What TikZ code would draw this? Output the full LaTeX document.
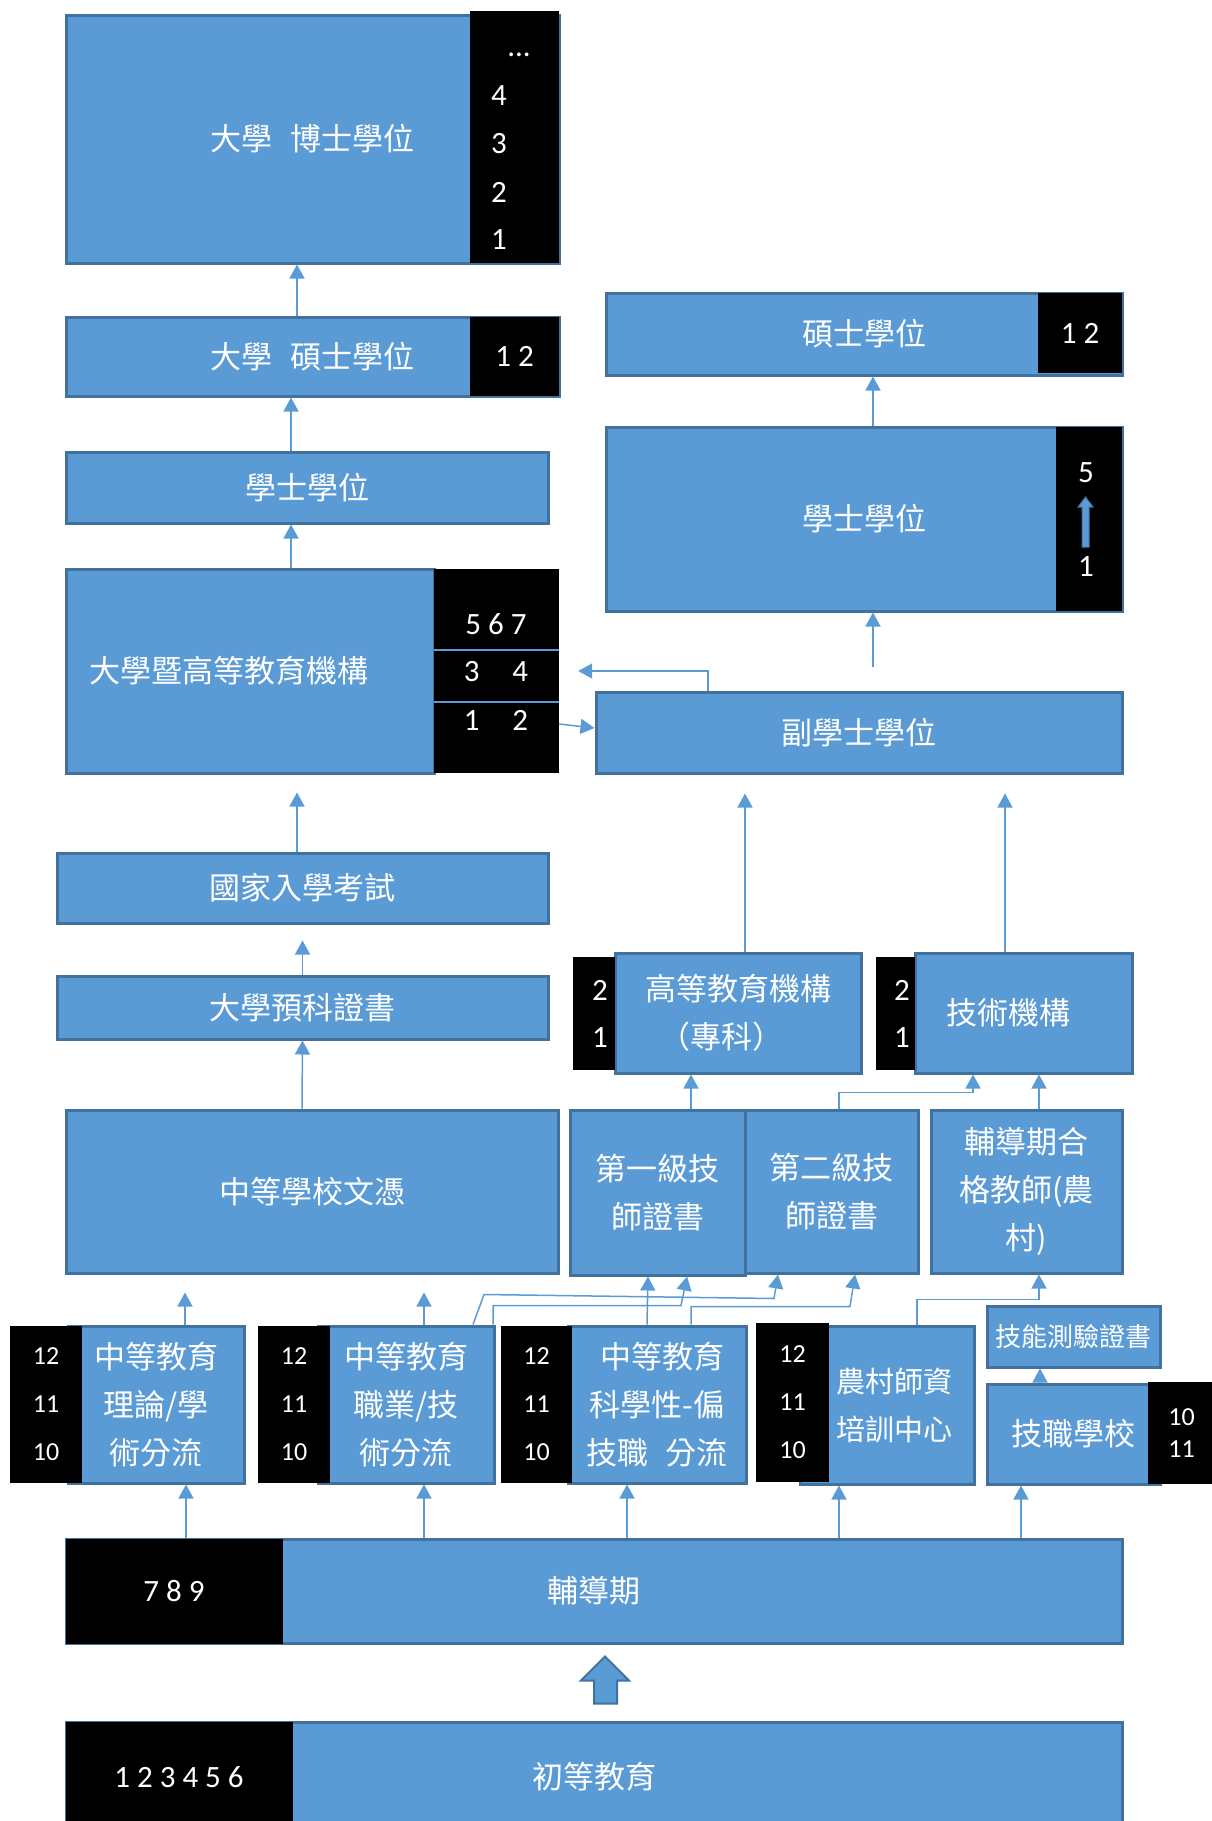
\documentclass[tikz,border=0pt]{standalone}
\usepackage{fontspec}
\usepackage{tikz}
\usetikzlibrary{positioning,calc}
\usetikzlibrary{arrows.meta}
\newfontfamily\cjkfont{Noto Sans CJK TC}
\newfontfamily\digfont{Carlito}
\definecolor{BoxBlue}{RGB}{91,155,213}
\definecolor{BoxEdge}{RGB}{65,113,156}

\begin{document}
\begin{tikzpicture}[x=1pt,y=-1pt,
	box/.style={rectangle,draw=BoxEdge,fill=BoxBlue,line width=3pt,text=white,inner sep=0pt,align=center,
		font=\cjkfont\fontsize{31}{48}\selectfont},
	yrs/.style={rectangle,fill=black,text=white,inner sep=0pt,align=center,
		font=\digfont\fontsize{31}{48}\selectfont},
	num/.style={text=white,inner sep=0pt,font=\digfont\fontsize{31}{36}\selectfont},
	small/.style={font=\digfont\fontsize{26}{48}\selectfont},
	arr/.style={draw=BoxBlue,line width=1.5pt,-{Triangle[width=15pt,length=14pt]}}]
				\useasboundingbox (0,0) rectangle (1212,1821);
				
				\node[box,minimum width=493pt,minimum height=248pt] (phd) at (312.5,139) {大學\hspace{0.6em}博士學位};
				\node[yrs,minimum width=89pt,minimum height=252pt] (phdyrs) at (514.5,137) {};
				\node[num] (phddots) at (519,55) {...};
				\foreach \n/\y in {4/96,3/144,2/192,1/240}
				\node[num] (phd\n) at (499,\y) {\n};
				
				\node[box,minimum width=493pt,minimum height=79pt] (master) at (312.5,356.5) {大學\hspace{0.6em}碩士學位};
				\node[yrs,minimum width=89pt,minimum height=79pt] (masteryrs) at (514.5,356.5) {1 2};
				\node[box,minimum width=482pt,minimum height=71pt] (bachelor) at (307,487.5) {學士學位};
				
				\node[box,text width=322pt,inner xsep=23pt,align=left,minimum height=204pt] (univ) at (250,671) {大學暨高等教育機構};
				\node[yrs,minimum width=125pt,minimum height=204pt] (univyrs) at (496.5,671) {};
				\draw[BoxBlue,line width=2pt] ([yshift=21pt]univyrs.west) -- ([yshift=21pt]univyrs.east);
				\draw[BoxBlue,line width=2pt] ([yshift=-31pt]univyrs.west) -- ([yshift=-31pt]univyrs.east);
				\node[num] (ufive) at (496,624) {5 6 7};
				\node[num] (uthree) at (496,672) {3\hspace{33pt}4};
				\node[num] (uone) at (496,720) {1\hspace{33pt}2};
				
				\node[box,minimum width=491pt,minimum height=70pt] (exam) at (302.5,888) {國家入學考試};
				\node[box,minimum width=491pt,minimum height=63pt] (prep) at (302.5,1007.5) {大學預科證書};
				\node[box,minimum width=492pt,minimum height=163pt] (seccert) at (312,1191.5) {中等學校文憑};
				
				\node[box,minimum width=516pt,minimum height=82pt] (msc) at (864,334) {碩士學位};
				\node[yrs,minimum width=84pt,minimum height=80pt] (mscyrs) at (1080,333) {1 2};
				\node[box,minimum width=516pt,minimum height=184pt] (bsc) at (864,519) {學士學位};
				\node[yrs,minimum width=66pt,minimum height=184pt] (bscyrs) at (1089,519) {};
				\node[num] (bfive) at (1086,473) {5};
				\node[num] (bone) at (1086,567) {1};
				\draw[fill=BoxBlue,draw=BoxEdge,line width=1pt] (1082,547) -- (1082,507) -- (1078,507) -- (1085.5,497)
					-- (1093,507) -- (1089,507) -- (1089,547) -- cycle;
				\node[box,minimum width=526pt,minimum height=81pt] (assoc) at (859,732.5) {副學士學位};
				
				\node[box,minimum width=246pt,minimum height=120pt] (higher) at (738,1013) {高等教育機構\\（專科）\hspace*{34pt}};
				\node[yrs,minimum width=42pt,minimum height=113pt,font=\digfont\fontsize{31}{47}\selectfont] (higheryrs) at (594,1013.5) {\hspace*{12pt}2\\\hspace*{12pt}1};
				\node[box,minimum width=217pt,minimum height=120pt] (tech) at (1023.5,1013) {技術機構\hspace*{30pt}};
				\node[yrs,minimum width=39pt,minimum height=113pt,font=\digfont\fontsize{31}{47}\selectfont] (techyrs) at (895.5,1013.5) {\hspace*{13pt}2\\\hspace*{13pt}1};
				
				\node[box,minimum width=173pt,minimum height=163pt] (lvltwo) at (831.5,1191.5) {第二級技\\師證書};
				\node[box,minimum width=175pt,minimum height=165pt] (lvlone) at (657.5,1192.5) {第一級技\\師證書};
				\node[box,minimum width=191pt,minimum height=163pt] (rural) at (1026.5,1191.5) {輔導期合\\格教師(農\\村)};
				
				\node[box,minimum width=176pt,minimum height=157pt] (sone) at (156,1404.5) {中等教育\\理論/學\\術分流};
				\node[yrs,small,minimum width=72pt,minimum height=157pt] (soneyrs) at (46,1404.5) {12\\11\\10};
				\node[box,minimum width=176pt,minimum height=157pt] (stwo) at (406,1404.5) {中等教育\\職業/技\\術分流};
				\node[yrs,small,minimum width=72pt,minimum height=157pt] (stwoyrs) at (294,1404.5) {12\\11\\10};
				\node[box,minimum width=178pt,minimum height=157pt] (sthree) at (657,1404.5) {\hspace*{10pt}中等教育\\科學性-偏\\技職\hspace{0.55em}分流};
				\node[yrs,small,minimum width=71pt,minimum height=157pt] (sthreeyrs) at (536.5,1404.5) {12\\11\\10};
				\node[box,minimum width=174pt,minimum height=158pt,font=\cjkfont\fontsize{29}{48}\selectfont] (rtc) at (887,1405) {\hspace*{14pt}農村師資\\\hspace*{14pt}培訓中心};
				\node[yrs,small,minimum width=73pt,minimum height=159pt] (rtcyrs) at (792.5,1402.5) {12\\11\\10};
				\node[box,minimum width=173pt,minimum height=61pt,font=\cjkfont\fontsize{26}{30}\selectfont] (skill) at (1073.5,1336.5) {技能測驗證書};
				\node[box,minimum width=173pt,minimum height=100pt] (vocsch) at (1073.5,1434) {技職學校};
				\node[yrs,font=\digfont\fontsize{26}{32}\selectfont,minimum width=67pt,minimum height=102pt] (vocyrs) at (1181.5,1433) {10\\11};
				
				\node[box,minimum width=1056pt,minimum height=104pt] (guid) at (594,1591) {輔導期};
				\node[yrs,minimum width=217pt,minimum height=105pt] (guidyrs) at (174,1591) {7 8 9};
				\node[box,minimum width=1056pt,minimum height=110pt] (prim) at (594,1777) {初等教育};
				\node[yrs,minimum width=227pt,minimum height=111pt] (primyrs) at (179,1777) {1 2 3 4 5 6};
				
				\draw[fill=BoxBlue,draw=BoxEdge,line width=2pt] ([yshift=17pt]prim.north) -- ++(0,-23) -- ++(-13,0) -- ++(24,-24)
					-- ++(24,24) -- ++(-12,0) -- ++(0,23) -- cycle;
				
				\draw[arr] ([xshift=-15.5pt]master.north) -- ([xshift=-15.5pt]phd.south);
				\draw[arr] ([xshift=-16pt]bachelor.north) -- ([xshift=-21.5pt]master.south);
				\draw[arr] ([xshift=41pt]univ.north) -- ([xshift=-16pt]bachelor.south);
				\draw[arr,shorten >=18pt] ([xshift=-5.5pt]exam.north) -- ([xshift=-5.5pt]exam.north |- univ.south);
				\draw[arr,shorten >=16pt] (prep.north) -- (exam.south);
				\draw[arr] ([xshift=-10pt]seccert.north) -- (prep.south);
				\draw[arr,shorten >=18pt] ([xshift=29pt]sone.north) -- ([xshift=29pt]sone.north |- seccert.south);
				\draw[arr,shorten >=18pt] ([xshift=18pt]stwo.north) -- ([xshift=18pt]stwo.north |- seccert.south);
				\foreach \t/\dx in {sone/30,stwo/18,sthree/-30,rtc/-48,vocsch/-52.5}
				\draw[arr] ([xshift=\dx pt]\t.south |- guid.north) -- ([xshift=\dx pt]\t.south);
				\draw[arr] ([xshift=-33.5pt]vocsch.north) -- ([xshift=-33.5pt]vocsch.north |- skill.south);
				\draw[arr] ([xshift=30pt]rtc.north) -- ++(0,-25) -| ([xshift=12.5pt]rural.south);
				\draw[arr] ([xshift=-10pt]sthree.north) -- ([xshift=-9.5pt]lvlone.south);
				\draw[arr] ([xshift=34pt]sthree.north) -- ++(0,-18) -- ++(159,0) -- ([xshift=23.5pt]lvltwo.south);
				\draw[arr] ([xshift=67pt]stwo.north) -- ++(11,-30) -- ++(290,4) -- ([xshift=-53.5pt]lvltwo.south);
				\draw[arr] ([xshift=87pt]stwo.north) -- ++(0,-19) -- ++(188,0) -- ([xshift=29.5pt]lvlone.south);
				\draw[arr] ([xshift=33.5pt]lvlone.north) -- ([xshift=-47pt]higher.south);
				\draw[arr] ([xshift=7.5pt]lvltwo.north) -- ++(0,-16) -| ([xshift=-50.5pt]tech.south);
				\draw[arr] ([xshift=12.5pt]rural.north) -- ([xshift=15.5pt]tech.south);
				\draw[arr,shorten >=19pt] ([xshift=7pt]higher.north) -- ([xshift=7pt]higher.north |- assoc.south);
				\draw[arr,shorten >=19pt] ([xshift=-18.5pt]tech.north) -- ([xshift=-18.5pt]tech.north |- assoc.south);
				\draw[arr,shorten <=24pt] ([xshift=14pt]assoc.north) -- ([xshift=9pt]bsc.south);
				\draw[arr] ([xshift=9pt]bsc.north) -- ([xshift=9pt]msc.south);
				\draw[arr,shorten >=19pt] ([xshift=-151pt]assoc.north) |- (univyrs.east);
				\draw[arr] ([yshift=-53pt]univyrs.east) -- ([yshift=4.5pt]assoc.west);
			\end{tikzpicture}
\end{document}
